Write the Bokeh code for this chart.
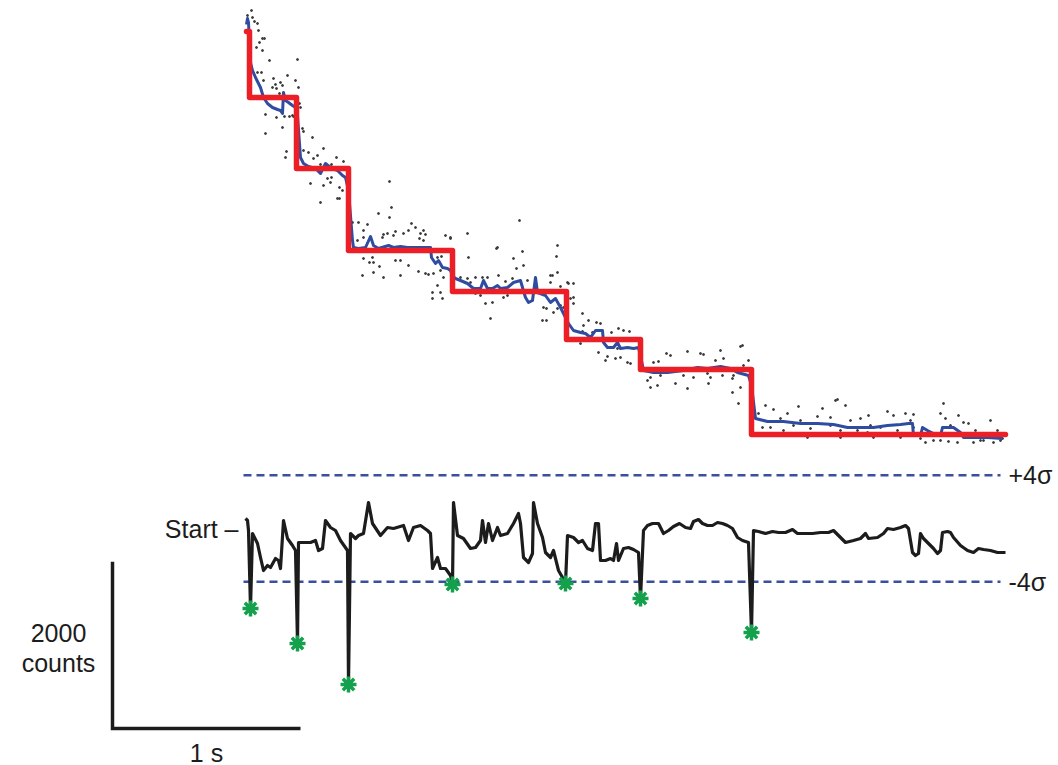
from bokeh.plotting import figure
from bokeh.models import Range1d
from bokeh.embed import file_html
from bokeh.resources import INLINE
from bokeh.core.properties import value

# ---------------- data ----------------
FPS = 188            # camera frames per second (time axis in frames)
SIGMA = 160          # noise sigma of the step statistic (counts)

# raw intensity (frame, counts)
RAW_FRAMES = [5,1,6,8,11,12,16,18,13,10,16,23,51,11,15,41,17,27,34,49,29,36,26,30,52,33,21,19,30,43,
              47,38,36,56,57,19,66,40,39,57,62,71,77,67,90,74,85,97,99,64,77,81,85,93,96,93,84,53,54,46,74,91,
              143,132,145,143,106,112,121,165,169,162,149,137,174,179,117,111,147,173,199,204,221,273,250,276,
              311,310,267,277,270,117,126,127,149,154,162,191,195,222,133,123,116,127,137,154,172,179,182,194,
              214,221,224,229,241,252,259,266,281,304,311,314,321,327,191,194,186,186,196,234,239,246,257,261,
              314,311,317,307,244,229,117,136,141,157,177,177,204,251,197,187,236,
              306,322,327,304,297,300,296,300,324,327,336,342,350,354,337,336,346,372,377,383,365,334,352,361,
              359,369,374,381,384,371,394,407,412,420,424,441,454,457,474,469,477,496,502,409,404,414,401,411,
              437,447,461,464,476,486,487,404,429,441,494,494,497,462,486,492,
              519,512,527,541,552,576,591,599,571,584,622,641,647,659,667,694,697,699,712,717,722,744,516,524,
              537,547,564,594,611,621,634,651,674,679,687,694,702,727,737,747,756,667,654,627,594,577,561,544,
              527,514,711,734,751,589,554,604,624,664,684,704,729,739,754,534,584,614]
RAW_COUNTS = [5160,5100,5076,5028,5004,4920,4824,4824,4776,4716,4680,4560,4572,4416,4416,4380,4320,4344,4296,4320,
              4272,4260,4236,4224,4236,4164,4128,3912,3876,3888,3888,3888,3756,3744,3708,3684,3636,3468,3396,3480,
              3456,3420,3504,3384,3396,3312,3312,3348,3276,3084,3060,3144,3156,3036,3000,2904,3096,4044,3996,3900,
              2856,2904,
              3108,2724,2796,2676,2616,2616,2592,2604,2556,2520,2508,2472,2484,2472,2436,2400,2460,2424,2460,2424,
              2484,2640,2304,2268,2340,2208,2184,2100,2064,2184,2196,2136,2160,2160,2100,2196,2208,2196,2088,2136,
              1980,2016,1956,1980,2028,2004,1992,2040,1956,1944,1896,1956,1956,1980,1908,1944,1920,1980,2016,1848,
              1896,1716,1860,1776,1776,1704,1704,1740,1644,1656,1716,1740,1620,1584,1596,1536,1464,1764,2520,2436,
              2484,2484,2520,2400,2436,2316,1956,2004,1956,
              1980,1884,1884,1896,1596,1584,1440,1440,1704,1644,1524,1440,1416,1404,1380,1308,1296,1344,1320,1308,
              1296,1164,1056,1008,960,984,996,936,924,1104,1044,936,948,1044,1020,1068,1044,1032,1080,960,
              984,1140,960,816,756,780,720,660,780,756,804,756,780,744,780,636,684,624,636,1128,900,684,576,444,
              420,324,372,324,408,384,492,420,288,276,300,348,300,324,312,324,444,264,300,216,204,240,156,156,
              120,180,144,120,120,96,156,120,24,-24,0,0,-12,-24,0,-24,24,156,36,36,36,60,36,60,60,84,
              -24,0,120,480,240,240,180,240,96,180,120,60,0,264,180,264]

# smoothed intensity
SMOOTH_FRAMES = [0,1,2,4,6,9,14,17,21,26,31,34,36,37,39,42,46,49,51,54,57,62,69,74,79,84,91,96,99,102,
                 106,107,112,119,124,127,132,142,147,154,161,167,174,181,184,185,189,192,196,201,204,206,209,
                 214,221,227,234,237,241,246,251,254,261,267,274,276,279,282,286,289,291,299,304,309,314,319,
                 322,327,334,339,344,349,356,357,361,367,371,374,381,387,392,395,397,407,421,437,451,461,474,
                 484,491,502,505,509,521,537,554,571,587,601,614,627,641,654,662,666,667,674,676,681,687,694,
                 696,707,714,717,727,741,756]
SMOOTH_COUNTS = [4992,5064,5016,4536,4440,4356,4236,4116,4044,3996,3972,3960,3924,4176,4080,4056,4020,3996,3900,3396,
                 3324,3288,3264,3204,3324,3276,3240,3180,3156,3000,2400,2316,2304,2316,2448,2340,2304,2340,2316,2328,
                 2316,2316,2316,2316,2316,2196,2124,2160,2076,2064,2040,1980,1944,1920,1884,1824,1824,1920,1824,1824,
                 1860,1824,1836,1896,1920,1836,1716,1656,1680,1956,1776,1740,1656,1704,1596,1476,1404,1320,1296,1284,
                 1236,1320,1320,1176,1116,1116,1176,1104,1116,1104,1116,960,840,816,816,840,876,864,888,864,
                 816,780,660,264,228,228,204,204,192,156,156,156,180,192,204,204,60,60,156,120,
                 84,60,156,156,96,36,36,36,24]

# step fit
STEP_FRAMES = [0, 3, 50, 102, 206, 320, 394, 505, 759]
STEP_LEVELS = [4908, 4116, 3264, 2280, 1788, 1212, 852, 72, 72]

# step-detection statistic (counts)
STAT_FRAMES = [-1,1,2,4,6,7,11,14,17,21,24,29,32,34,37,41,46,49,51,52,57,64,69,72,76,79,84,89,94,101,
               102,104,109,112,117,122,126,134,141,147,157,162,167,174,181,184,186,191,194,199,204,206,207,211,
               217,224,229,234,236,239,242,246,251,254,261,267,272,274,277,282,286,287,291,296,299,304,307,312,
               316,319,321,327,332,336,341,346,349,352,354,359,364,367,370,372,377,382,387,392,394,397,401,406,
               412,417,422,427,433,439,444,447,452,456,461,466,471,476,481,486,491,496,502,505,507,512,519,526,
               532,539,546,551,557,566,574,582,587,594,599,607,614,619,622,631,637,641,647,654,659,662,666,669,
               672,674,677,682,687,691,694,696,701,704,707,714,721,727,732,737,744,751,759]
STAT_VALUES = [120,96,-24,-960,-60,-84,-180,-348,-504,-444,-468,-360,-384,-480,96,-120,-204,-264,-1380,-168,
               -168,-168,-144,-264,-240,96,12,-24,-144,-264,-1872,-60,-120,-84,-60,312,60,-84,12,0,
               36,-144,12,36,-24,-60,-480,-348,-480,-480,-564,-672,312,-84,-120,-240,-228,-144,96,-168,
               60,-144,12,-84,-60,60,180,60,-348,-408,-300,312,60,-108,-288,-348,-264,-504,-588,-660,
               -84,-108,-168,-144,-240,-264,60,60,-384,-384,-360,-384,-180,-384,-240,-228,-252,-288,-840,-24,
               36,60,60,-60,-24,24,60,12,0,84,108,60,36,36,72,60,36,0,-108,-144,
               -168,-1248,-24,-36,-60,-36,-48,-48,-12,-60,-60,-60,-48,-48,-24,-108,-168,-144,-120,-60,
               -120,-108,-60,0,-12,12,36,0,-288,-324,-300,-60,-120,-180,-240,-300,-264,-48,-36,-48,
               -108,-204,-264,-288,-240,-252,-264,-288,-288]

EVENT_FRAMES = [4, 51, 102, 206, 319, 394, 505]
EVENT_VALUES = [-960, -1380, -1872, -672, -660, -840, -1248]

SCALE_COUNTS = 2000
SCALE_SECONDS = 1

# ---------------- figure ----------------
FONT = value("Liberation Sans")
p = figure(width=1058, height=765, x_range=Range1d(-246, 812), y_range=Range1d(-3900, 5280),
           output_backend="svg", toolbar_location=None, min_border=0,
           x_axis_type=None, y_axis_type=None)
p.extra_y_ranges = {"stat": Range1d(-2844, 6336)}
p.grid.visible = False
p.outline_line_color = None
p.background_fill_color = "white"
p.border_fill_color = "white"

# upper trace
p.scatter(RAW_FRAMES, RAW_COUNTS, size=2.0, color="#3a3a3a", marker="circle")
p.line(SMOOTH_FRAMES, SMOOTH_COUNTS, line_width=3, color="#2f4da0", line_join="round")
p.step(STEP_FRAMES, STEP_LEVELS, mode="after", line_width=5.5, color="#ec1f26",
       line_join="round", line_cap="round")

# lower trace
x_end = STAT_FRAMES[-1]
for lvl in (4 * SIGMA, -4 * SIGMA):
    p.line([-3, x_end - 5], [lvl, lvl], y_range_name="stat", line_dash="8 5",
           line_width=2.5, color="#3a4f9e")
p.line(STAT_FRAMES, STAT_VALUES, y_range_name="stat", line_width=3.2, color="#1c1c1c",
       line_join="round")
p.scatter(EVENT_FRAMES, EVENT_VALUES, y_range_name="stat", marker="asterisk", size=16,
          line_width=3.5, color="#14a04c")

# scale bar
sb_x0, sb_y0 = -134, -3456
p.line([sb_x0, sb_x0, sb_x0 + SCALE_SECONDS * FPS],
       [sb_y0 + SCALE_COUNTS, sb_y0, sb_y0], line_width=3.5, color="#1c1c1c", line_join="miter")

p.text(x=[-188, -188], y=[-2304, -2664], text=[f"{SCALE_COUNTS}", "counts"],
       text_align="center", text_baseline="middle", text_font=FONT,
       text_font_size="25px", text_color="#1c1c1c")
p.text(x=[sb_x0 + SCALE_SECONDS * FPS / 2], y=[-3744], text=[f"{SCALE_SECONDS} s"],
       text_align="center", text_baseline="middle", text_font=FONT,
       text_font_size="25px", text_color="#1c1c1c")

# lower-trace labels
p.text(x=[-8], y=[0], text=["Start \u2013"], y_range_name="stat", text_align="right",
       text_baseline="middle", text_font=FONT, text_font_size="25px", text_color="#1c1c1c")
p.text(x=[x_end + 3, x_end + 3], y=[4 * SIGMA, -4 * SIGMA], text=["+4\u03c3", "-4\u03c3"],
       y_range_name="stat", text_align="left", text_baseline="middle", text_font=FONT,
       text_font_size="25px", text_color="#1c1c1c")

open("out.html", "w").write(file_html(p, INLINE))
